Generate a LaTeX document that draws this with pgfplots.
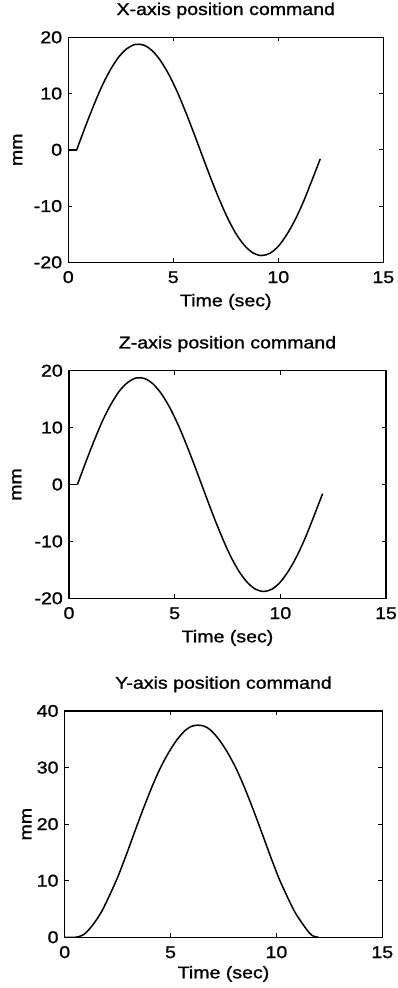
\documentclass[border=0pt]{standalone}
\usepackage{fontspec}
\setmainfont{Liberation Sans}[FakeStretch=1.15, FakeBold=1.2]
\usepackage{pgfplots}
\pgfplotsset{compat=1.18}
\usepackage{pgfplotstable}

\pgfplotstableread{
t v
0.4 0
0.8 4.0
1.2 7.8
1.6 11.3
2.0 14.2
2.4 16.5
2.8 18.0
3.2 18.75
3.6 18.6
4.0 17.6
4.4 15.8
4.8 13.3
5.2 10.2
5.6 6.6
6.0 2.75
6.4 -1.25
6.8 -5.2
7.2 -8.9
7.6 -12.25
8.0 -15.0
8.4 -17.05
8.8 -18.35
9.2 -18.8
9.6 -18.4
10.0 -17.15
10.4 -15.1
10.8 -12.45
11.2 -9.2
11.6 -5.45
12.0 -1.6
}\xdata

\pgfplotstableread{
t v
0.4 0
0.8 4.0
1.2 7.8
1.6 11.3
2.0 14.2
2.4 16.5
2.8 18.0
3.2 18.75
3.6 18.6
4.0 17.6
4.4 15.8
4.8 13.3
5.2 10.2
5.6 6.6
6.0 2.75
6.4 -1.25
6.8 -5.2
7.2 -8.9
7.6 -12.25
8.0 -15.0
8.4 -17.05
8.8 -18.35
9.2 -18.8
9.6 -18.4
10.0 -17.15
10.4 -15.1
10.8 -12.45
11.2 -9.2
11.6 -5.45
12.0 -1.6
}\zdata

\pgfplotstableread{
t v
0 0
0.5 0
0.8 0.3
1.0 0.8
1.35 2.3
1.75 4.6
2.14 7.6
2.5 10.6
2.93 14.8
3.3 18.6
3.71 22.7
4.1 26.4
4.5 29.8
4.9 32.6
5.3 34.9
5.7 36.6
6.0 37.3
6.3 37.5
6.6 37.3
6.9 36.6
7.3 34.9
7.7 32.6
8.1 29.8
8.5 26.4
8.89 22.7
9.3 18.6
9.67 14.8
10.1 10.6
10.46 7.6
10.85 4.6
11.25 2.3
11.55 0.8
11.75 0.2
12.0 0
}\ydata

\pgfplotsset{
  mystyle/.style={
    scale only axis,
    anchor=south west,
    xmin=0, xmax=15,
    xtick={0,5,10,15},
    tick align=inside,
    major tick length=4pt,
    axis line style={line width=1.1pt},
    every tick/.style={line width=0.8pt, black},
    /pgf/number format/assume math mode=true,
    tick label style={font=\fontsize{17}{20}\selectfont},
    x tick label style={anchor=base, yshift=-20.7pt},
    y tick label style={anchor=east, inner sep=0pt, xshift=-6pt},
    label style={font=\fontsize{17}{20}\selectfont},
    xlabel={Time (sec)},
    ylabel={mm},
    xlabel style={at={(axis description cs:0.5,0)}, anchor=base, yshift=-44pt},
    title style={at={(axis description cs:0.5,1)}, anchor=base, yshift=16.3pt, font=\fontsize{17}{20}\selectfont},
  },
  curve/.style={line width=1.5pt, black, no markers},
}

\begin{document}
\begin{tikzpicture}
\useasboundingbox (0pt,0pt) rectangle (397pt,-988pt);
\begin{axis}[mystyle,
  at={(68.3pt,-262.3pt)}, width=315pt, height=225pt,
  ymin=-20, ymax=20, ytick={-20,-10,0,10,20},
  title={X-axis position command},
  ylabel style={at={(axis description cs:-0.161,0.5)}, anchor=center}]
\addplot[curve] coordinates {(0,0) (0.4,0)};
\addplot[curve, smooth, tension=0.5] table[x=t,y=v] {\xdata};
\end{axis}
\begin{axis}[mystyle,
  at={(69pt,-598.3pt)}, width=317pt, height=227.6pt,
  ymin=-20, ymax=20, ytick={-20,-10,0,10,20},
  title={Z-axis position command},
  ylabel style={at={(axis description cs:-0.165,0.5)}, anchor=center}]
\addplot[curve] coordinates {(0,0) (0.4,0)};
\addplot[curve, smooth, tension=0.5] table[x=t,y=v] {\zdata};
\end{axis}
\begin{axis}[mystyle,
  at={(64.7pt,-937.3pt)}, width=317.6pt, height=226.3pt,
  ymin=0, ymax=40, ytick={0,10,20,30,40},
  title={Y-axis position command},
  xlabel style={yshift=3pt},
  ylabel style={at={(axis description cs:-0.119,0.5)}, anchor=center}]
\addplot[curve, smooth, tension=0.5] table[x=t,y=v] {\ydata};
\end{axis}
\end{tikzpicture}
\end{document}
